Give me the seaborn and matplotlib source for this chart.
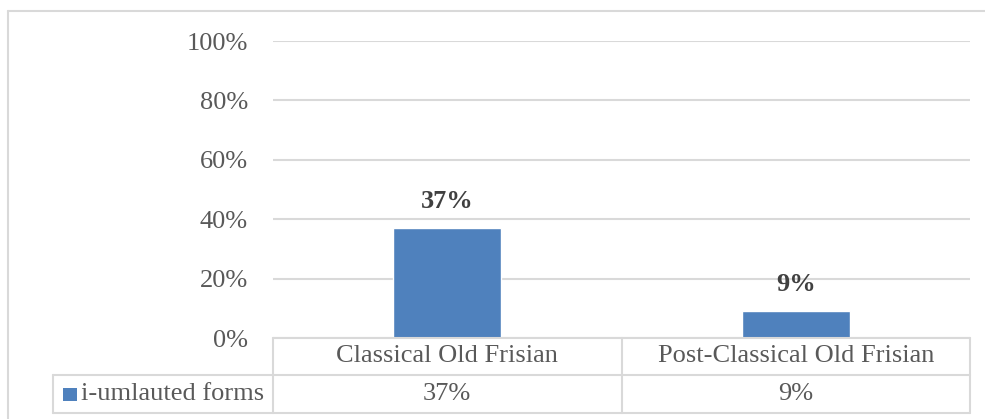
import numpy as np
import pandas as pd
import seaborn as sns
import matplotlib.pyplot as plt
from matplotlib.lines import Line2D
from matplotlib.patches import Rectangle

# data
periods = ["Classical Old Frisian", "Post-Classical Old Frisian"]
umlaut_share = [0.37, 0.09]
series_name = "i-umlauted forms"

W, H = 985, 419
bar_col = "#4F81BD"
txt_col = "#595959"
grid_col = "#D9D9D9"
fs = 19

sns.set_style("white")
plt.rcParams["font.family"] = ["Liberation Serif", "DejaVu Serif"]

fig = plt.figure(figsize=(W / 100, H / 100), dpi=100)


def fx(px):
    return px / W


def fy(py):
    return 1 - py / H


# plot area
x0, x1, ytop, ybot = 273, 970, 41, 338
ax = fig.add_axes([fx(x0), fy(ybot), fx(x1) - fx(x0), fy(ytop) - fy(ybot)])

df = pd.DataFrame({"period": periods, "share": umlaut_share})
sns.barplot(data=df, x="period", y="share", color=bar_col, saturation=1,
            width=0.31, ax=ax)

ax.set_ylim(0, 1)
ax.set_xlim(-0.5, len(periods) - 0.5)
ax.set_yticks(np.arange(0, 1.01, 0.2))
ax.set_yticklabels([f"{int(round(v * 100))}%" for v in np.arange(0, 1.01, 0.2)],
                   fontsize=fs, color=txt_col)
ax.tick_params(axis="y", length=0, pad=18)
ax.set_xticks([])
ax.set_xlabel("")
ax.set_ylabel("")
for s in ax.spines.values():
    s.set_visible(False)
ax.yaxis.grid(True, color=grid_col, linewidth=1.5)
ax.set_axisbelow(True)

ax.bar_label(ax.containers[0], labels=[f"{int(round(v * 100))}%" for v in umlaut_share],
             padding=11, fontsize=fs, fontweight="bold", color="#404040")

# data table below the plot
lkw = dict(color=grid_col, linewidth=1.5)
row1_top, row1_bot, row2_bot = 338, 375, 413
leg_left = 53
mid_x = ax.transData.transform((0.5, 0))[0]
fig.add_artist(Line2D([fx(x0), fx(x1)], [fy(row1_top)] * 2, **lkw))
fig.add_artist(Line2D([fx(leg_left), fx(x1)], [fy(row1_bot)] * 2, **lkw))
fig.add_artist(Line2D([fx(leg_left), fx(x1)], [fy(row2_bot)] * 2, **lkw))
for xv, ya in [(x0, row1_top), (x1, row1_top), (leg_left, row1_bot)]:
    fig.add_artist(Line2D([fx(xv)] * 2, [fy(ya), fy(row2_bot)], **lkw))
fig.add_artist(Line2D([mid_x / W] * 2, [fy(row1_top), fy(row2_bot)], **lkw))

inv = fig.transFigure.inverted()
for i, (p, v) in enumerate(zip(periods, umlaut_share)):
    cx = inv.transform(ax.transData.transform((i, 0)))[0]
    fig.text(cx, fy((row1_top + row1_bot) / 2), p, ha="center", va="center",
             fontsize=fs, color=txt_col)
    fig.text(cx, fy((row1_bot + row2_bot) / 2), f"{int(round(v * 100))}%",
             ha="center", va="center", fontsize=fs, color=txt_col)

# legend key in the table
fig.add_artist(Rectangle((fx(63), fy(401)), fx(14), fy(388) - fy(401),
                         facecolor=bar_col, edgecolor="none"))
fig.text(fx(81), fy((row1_bot + row2_bot) / 2), series_name, ha="left",
         va="center", fontsize=fs, color=txt_col)

# chart border
fig.add_artist(Line2D([fx(8), 1], [fy(11)] * 2, **lkw))
fig.add_artist(Line2D([fx(8)] * 2, [fy(11), 0], **lkw))

fig.savefig("out.png", dpi=100)
